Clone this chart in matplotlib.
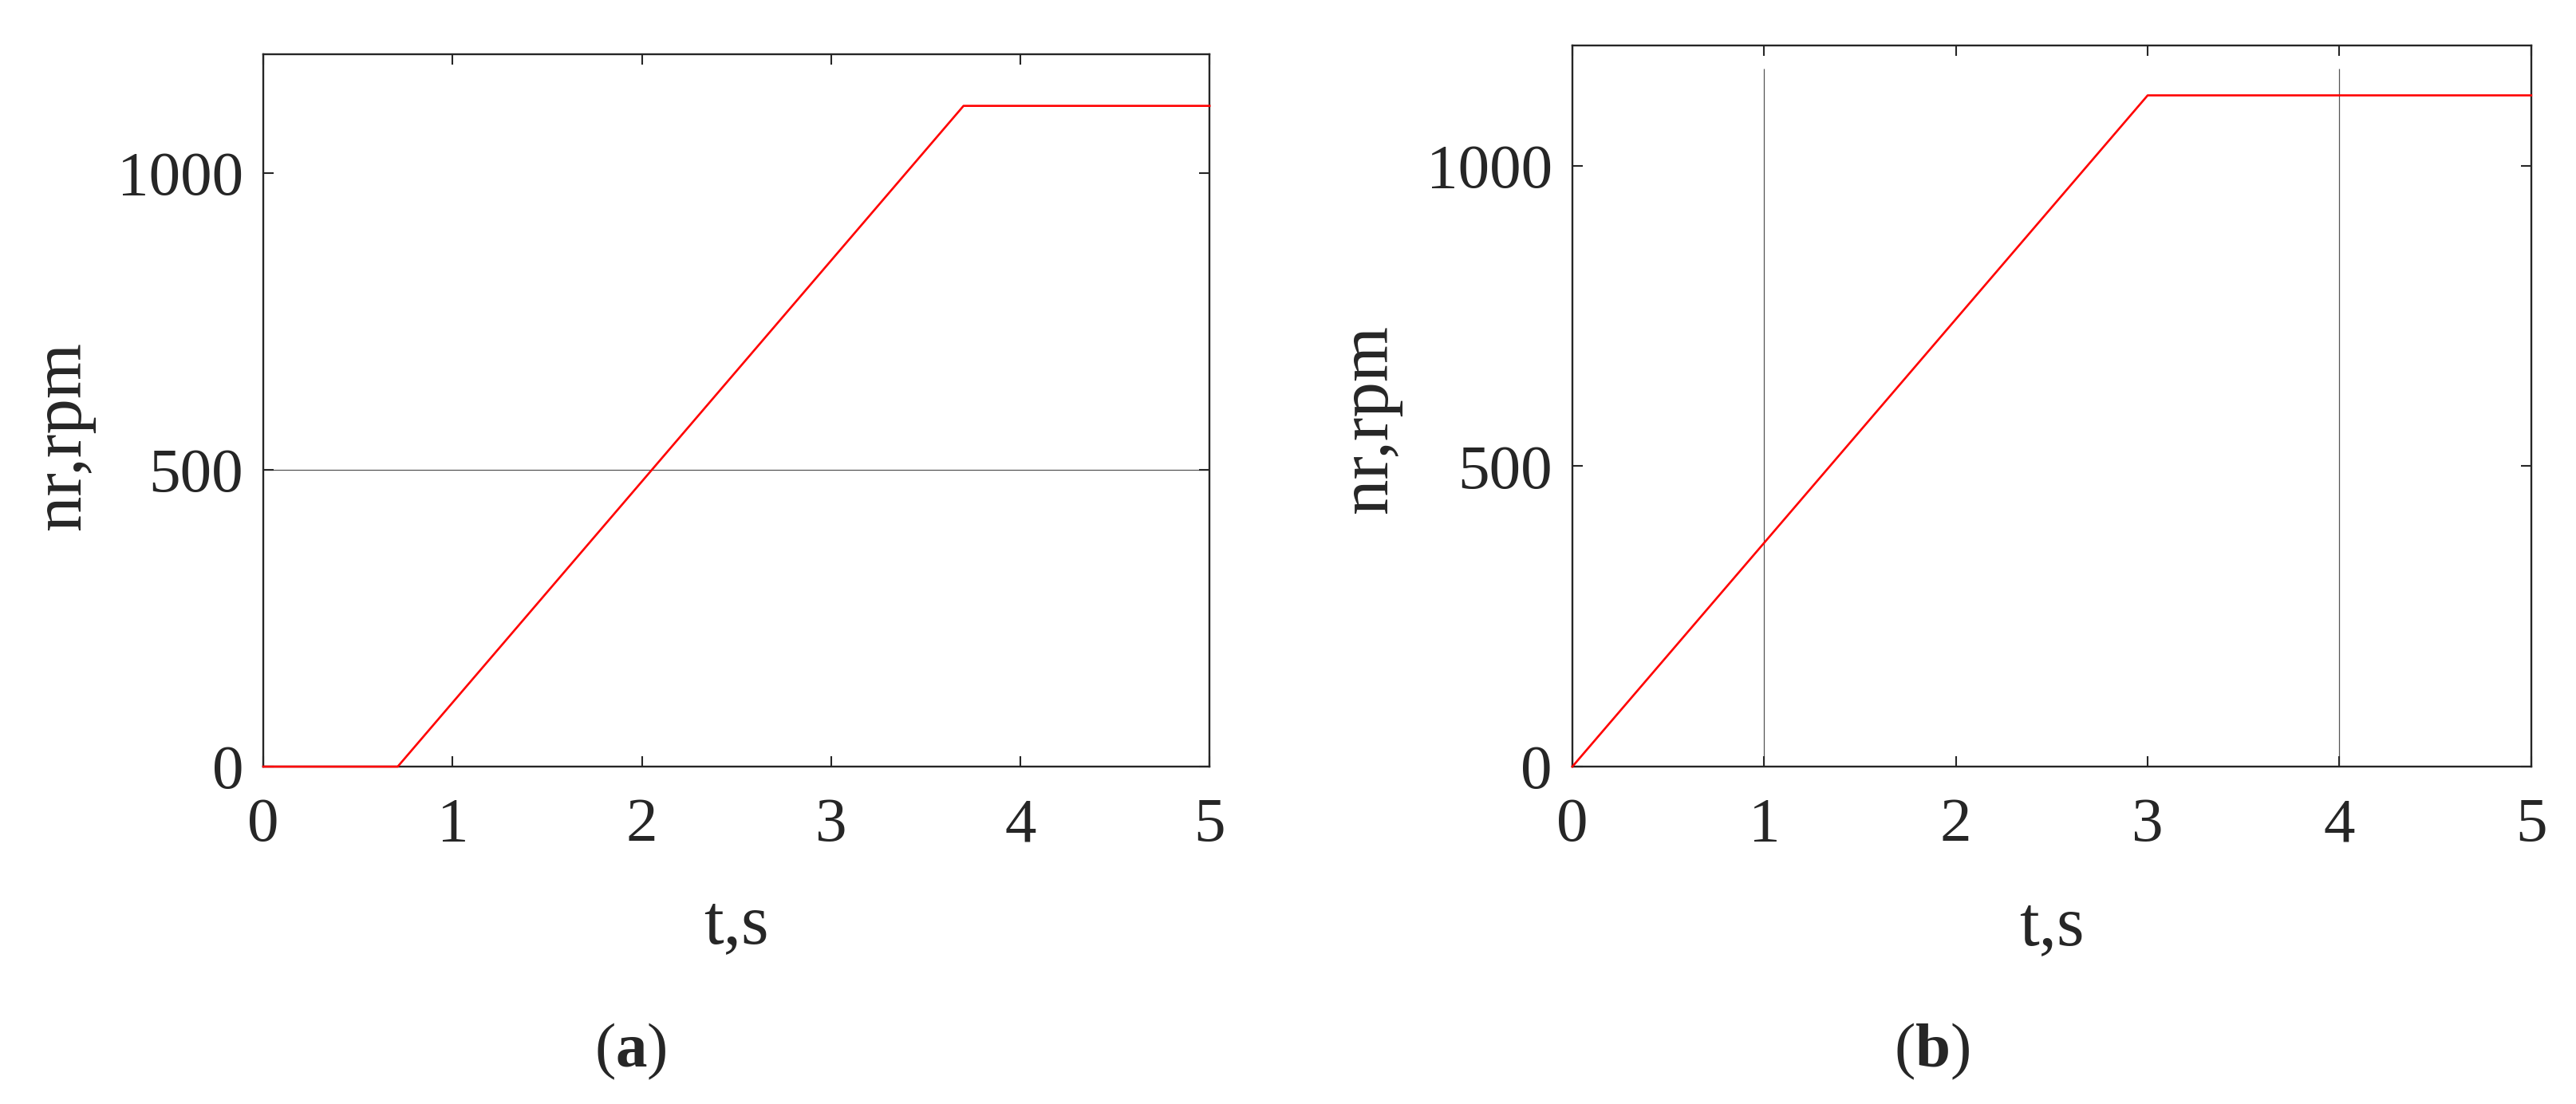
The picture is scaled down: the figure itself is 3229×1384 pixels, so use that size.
import numpy as np
import matplotlib
matplotlib.use('Agg')
import matplotlib.pyplot as plt

plt.rcParams['font.family'] = ['Liberation Serif', 'DejaVu Serif']
plt.rcParams['mathtext.fontset'] = 'custom'
plt.rcParams['mathtext.rm'] = 'Liberation Serif'
plt.rcParams['mathtext.bf'] = 'Liberation Serif:bold'

# speed profiles
t_a = [0.0, 0.71, 3.70, 5.0]
n_a = [0.0, 0.0, 1113.0, 1113.0]
ref_a = 500.0          # horizontal reference level in (a)

t_b = [0.0, 3.0, 5.0]
n_b = [0.0, 1117.0, 1117.0]
marks_b = [1.0, 4.0]   # vertical marker times in (b)
mark_top_b = 1162.0

x_ticks = [0, 1, 2, 3, 4, 5]
y_ticks = [0, 500, 1000]
dark = '#262626'

fig = plt.figure(figsize=(32.3, 13.84), dpi=100)
ax_a = fig.add_axes([0.1022, 0.3056, 0.3672, 0.6453])
ax_b = fig.add_axes([0.6102, 0.3056, 0.3721, 0.6532])


def style(ax, lab_y):
    ax.set_xlim(0, 5)
    ax.set_ylim(0, 1200)
    ax.set_xticks(x_ticks)
    ax.set_yticks(y_ticks)
    for s in ax.spines.values():
        s.set_color(dark)
        s.set_linewidth(1.7)
    ax.tick_params(direction='in', length=9.5, width=1.5, color=dark,
                   labelsize=57, labelcolor=dark, top=True, right=True)
    ax.tick_params(axis='x', pad=28)
    ax.tick_params(axis='y', pad=18)
    ax.set_xlabel('t,s', fontsize=64, color=dark)
    ax.set_ylabel('nr,rpm', fontsize=64, color=dark)
    ax.xaxis.label.set(va='center')
    ax.xaxis.set_label_coords(0.5, -0.223)
    ax.yaxis.label.set(va='center', ha='center', rotation_mode='default')
    ax.yaxis.set_label_coords(-0.212, lab_y)


# (a)
ax_a.axhline(ref_a, color='#555555', lw=0.9, zorder=1)
ax_a.plot(t_a, n_a, color='#ff0000', lw=1.9, clip_on=False, zorder=3)
style(ax_a, 0.465)

# (b)
ax_b.vlines(marks_b, 0, mark_top_b, color='#555555', lw=0.9, zorder=1)
ax_b.plot(t_b, n_b, color='#ff0000', lw=1.9, clip_on=False, zorder=3)
style(ax_b, 0.482)

fig.text(790 / 3230, 1 - 1318 / 1384, r'($\mathbf{a}$)', fontsize=57,
         color=dark, ha='center', va='center')
fig.text(2422 / 3230, 1 - 1318 / 1384, r'($\mathbf{b}$)', fontsize=57,
         color=dark, ha='center', va='center')

fig.savefig('out.png', dpi=100, facecolor='white')
